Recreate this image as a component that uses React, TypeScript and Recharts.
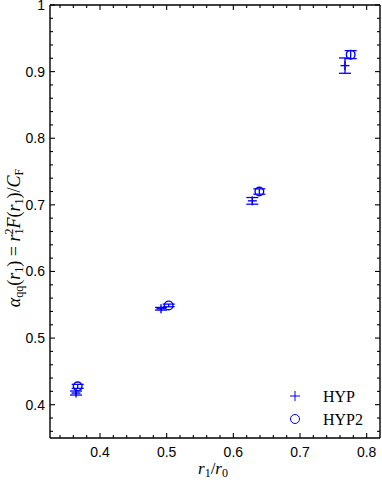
import React from "react";
import {ScatterChart, Scatter, XAxis, YAxis, ErrorBar, Label, ReferenceLine} from "recharts";

const hypX = [0.364, 0.4915, 0.6285, 0.7675];
const hypY = [0.4175, 0.544, 0.706, 0.909];
const hypErr = [0.003, 0.002, 0.005, 0.0115];

const hyp2X = [0.3665, 0.503, 0.639, 0.776];
const hyp2Y = [0.4275, 0.549, 0.72, 0.9255];
const hyp2Err = [0.003, 0.002, 0.004, 0.006];

const xMajor = [0.4, 0.5, 0.6, 0.7, 0.8];
const xMinor = [0.34, 0.36, 0.38, 0.42, 0.44, 0.46, 0.48, 0.52, 0.54, 0.56, 0.58,
    0.62, 0.64, 0.66, 0.68, 0.72, 0.74, 0.76, 0.78];
const yMajor = [0.4, 0.5, 0.6, 0.7, 0.8, 0.9, 1.0];
const yMinor = [0.36, 0.38, 0.42, 0.44, 0.46, 0.48, 0.52, 0.54, 0.56, 0.58, 0.62, 0.64,
    0.66, 0.68, 0.72, 0.74, 0.76, 0.78, 0.82, 0.84, 0.86, 0.88, 0.92, 0.94, 0.96, 0.98];

const hypData = hypX.map((x, i) => ({x, y: hypY[i], err: hypErr[i]}));
const hyp2Data = hyp2X.map((x, i) => ({x, y: hyp2Y[i], err: hyp2Err[i]}));

const BLUE = "#0000ff";
const tickFont = "'Liberation Sans', Arial, sans-serif";
const mathFont = "'Liberation Serif', 'Times New Roman', serif";
const fmt = (v: number) => (v === 1 ? "1" : v.toFixed(1));

// plot box size in px, used to mirror ticks onto the opposite side
const PLOT_W = 330;
const PLOT_H = 433;

const XTick = (props: any) => {
    const {x, y, payload} = props;
    const major = xMajor.includes(payload.value);
    const len = major ? 5 : 3;
    return (
        <g>
            <line x1={x} y1={y} x2={x} y2={y - len} stroke="#000" strokeWidth={1.1}/>
            <line x1={x} y1={y - PLOT_H} x2={x} y2={y - PLOT_H + len} stroke="#000" strokeWidth={1.1}/>
            {major &&
                <text x={x} y={y + 19} textAnchor="middle" fontFamily={tickFont} fontSize={14} fill="#000">
                    {fmt(payload.value)}
                </text>}
        </g>
    );
};

const YTick = (props: any) => {
    const {x, y, payload} = props;
    const major = yMajor.includes(payload.value);
    const len = major ? 5 : 3;
    return (
        <g>
            <line x1={x} y1={y} x2={x + len} y2={y} stroke="#000" strokeWidth={1.1}/>
            <line x1={x + PLOT_W} y1={y} x2={x + PLOT_W - len} y2={y} stroke="#000" strokeWidth={1.1}/>
            {major &&
                <text x={x - 5} y={y + 5} textAnchor="end" fontFamily={tickFont} fontSize={14} fill="#000">
                    {fmt(payload.value)}
                </text>}
        </g>
    );
};

const PlusShape = (props: any) => {
    const {cx, cy} = props;
    return (
        <g stroke={BLUE} strokeWidth={1.4}>
            <line x1={cx - 4.5} y1={cy} x2={cx + 4.5} y2={cy}/>
            <line x1={cx} y1={cy - 4.5} x2={cx} y2={cy + 4.5}/>
        </g>
    );
};

const CircleShape = (props: any) => {
    const {cx, cy} = props;
    return <circle cx={cx} cy={cy} r={4.3} fill="none" stroke={BLUE} strokeWidth={1.4}/>;
};

const LegendBox = () => (
    <g transform="translate(285, 384)">
        <g stroke={BLUE} strokeWidth={1}>
            <line x1={5} y1={12} x2={15} y2={12}/>
            <line x1={10} y1={7} x2={10} y2={17}/>
            <circle cx={10} cy={35} r={4.5} fill="none"/>
        </g>
        <text x={38} y={18} fontFamily={mathFont} fontSize={16} fill="#000">HYP</text>
        <text x={38} y={41} fontFamily={mathFont} fontSize={16} fill="#000">HYP2</text>
    </g>
);

const XLabel = () => (
    <g>
        <text x={213} y={474} textAnchor="middle" fontFamily={mathFont} fontSize={17} fill="#000">
            <tspan fontStyle="italic">r</tspan>
            <tspan fontSize={12} dy={3}>1</tspan>
            <tspan dy={-3}>/</tspan>
            <tspan fontStyle="italic">r</tspan>
            <tspan fontSize={12} dy={3}>0</tspan>
        </text>
        <LegendBox/>
    </g>
);

const YLabel = () => (
    <text transform="rotate(-90)" x={-238} y={20} textAnchor="middle" fontFamily={mathFont} fontSize={18} fill="#000">
        <tspan fontStyle="italic">α</tspan>
        <tspan fontSize={12} dy={3}>qq</tspan>
        <tspan dy={-3}>(</tspan>
        <tspan fontStyle="italic">r</tspan>
        <tspan fontSize={12} dy={3}>1</tspan>
        <tspan dy={-3}>) = </tspan>
        <tspan fontStyle="italic">r</tspan>
        <tspan fontSize={12} dy={-7}>2</tspan>
        <tspan fontSize={12} dx={-6} dy={10}>1</tspan>
        <tspan fontStyle="italic" dy={-3}>F</tspan>
        <tspan>(</tspan>
        <tspan fontStyle="italic">r</tspan>
        <tspan fontSize={12} dy={3}>1</tspan>
        <tspan dy={-3}>)/</tspan>
        <tspan fontStyle="italic">C</tspan>
        <tspan fontSize={12} dy={3}>F</tspan>
    </text>
);

const axisLine = {stroke: "#000", strokeWidth: 1.4};

export default function App() {
    return (
        <div style={{position: "absolute", left: 0, top: 0, width: 382, height: 482, background: "#fff"}}>
            <ScatterChart width={382} height={482} margin={{top: 5, right: 2, bottom: 0, left: 0}}>
                <XAxis xAxisId="b" type="number" dataKey="x" orientation="bottom" domain={[0.325, 0.82]}
                       ticks={[...xMajor, ...xMinor]} height={44} tickSize={0} tickMargin={0} tickLine={false}
                       axisLine={axisLine} tick={<XTick/>} allowDataOverflow interval={0}>
                    <Label content={() => <XLabel/>}/>
                </XAxis>
                <YAxis yAxisId="l" type="number" dataKey="y" orientation="left" domain={[0.35, 1.0]}
                       ticks={[...yMajor, ...yMinor]} width={50} tickSize={0} tickMargin={0} tickLine={false}
                       axisLine={axisLine} tick={<YTick/>} allowDataOverflow interval={0}>
                    <Label content={() => <YLabel/>}/>
                </YAxis>
                <ReferenceLine xAxisId="b" yAxisId="l" y={1.0} stroke="#000" strokeWidth={1.4}/>
                <ReferenceLine xAxisId="b" yAxisId="l" x={0.82} stroke="#000" strokeWidth={1.4}/>
                <Scatter name="HYP" data={hypData} xAxisId="b" yAxisId="l" shape={<PlusShape/>}
                         isAnimationActive={false}>
                    <ErrorBar dataKey="err" direction="y" width={6} stroke={BLUE} strokeWidth={1.3}
                              isAnimationActive={false}/>
                </Scatter>
                <Scatter name="HYP2" data={hyp2Data} xAxisId="b" yAxisId="l" shape={<CircleShape/>}
                         isAnimationActive={false}>
                    <ErrorBar dataKey="err" direction="y" width={6} stroke={BLUE} strokeWidth={1.3}
                              isAnimationActive={false}/>
                </Scatter>
            </ScatterChart>
        </div>
    );
}
